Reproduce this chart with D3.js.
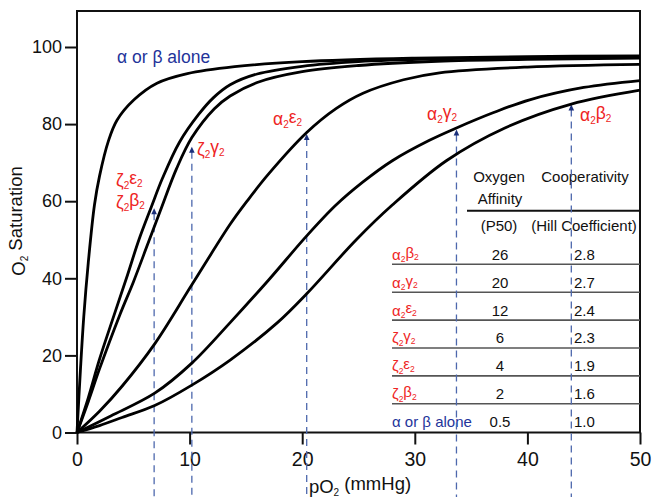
<!DOCTYPE html>
<html lang="en">
<head>
    <meta charset="UTF-8">
    <title>O2 saturation curves</title>
    <script src="https://d3js.org/d3.v7.min.js"></script>
    <style>
        body { margin: 0; background: #fff; }
        svg { display: block; font-family: "Liberation Sans", Arial, sans-serif; }
    </style>
</head>
<body>
    <script>
        // curve points: [pO2, saturation]
        const alphaOrBetaAlone = [[0,0],[0.3,16],[0.6,30],[1.0,44],[1.55,59],[2.0,66.5],[2.8,75.7],[3.55,81],[5.06,86.3],[7.1,90.6],[9.8,93.1],[14,94.9],[20,96.2],[30,97.1],[40,97.5],[50,97.7]];
        const zeta2beta2 = [[0,0],[1,9],[2,19],[3.3,30.5],[4.5,41],[5.5,50],[6.6,58.5],[7.6,66],[9.1,75.3],[10.8,82.5],[12.1,86.8],[13.6,90.2],[16,93],[20,95],[25,96.2],[32,96.9],[40,97.2],[50,97.4]];
        const zeta2gamma2 = [[0,0],[1,8],[2,16.5],[3.8,30.5],[5,39],[6.3,49],[7.4,57.5],[8.85,68.5],[10.2,76.5],[12.2,84],[13.6,87.3],[16,90.8],[20,93.6],[25,95.2],[32,96.3],[40,96.8],[50,97.1]];
        const alpha2epsilon2 = [[0,0],[2,5.5],[4,12],[6.9,23],[10.2,38.3],[13.6,54],[15.1,60],[17,67],[20.4,77.8],[23,84],[25.4,88],[29,91.5],[32.2,93.3],[40,94.8],[50,95.5]];
        const alpha2gamma2 = [[0,0],[3,4.3],[6.9,10.2],[10.2,18],[13.6,28.5],[17,39.5],[20.4,51],[23,59],[25.4,65],[28,70.5],[31.3,75.8],[33.7,79],[37,83],[40.2,86.3],[45,89.5],[50,91.3]];
        const alpha2beta2 = [[0,0],[2,1.8],[4,3.9],[6.9,7],[10.2,12.3],[13.6,18.8],[17.8,28.5],[20.4,36],[24.8,50],[28,59],[32.8,70.5],[38,79],[43.9,85.2],[50,88.8]];

        // dashed marker lines: pO2 and where the arrow stops
        const arrowP = [6.85, 10.2, 20.4, 33.7, 43.9];
        const arrowTip = [58.2, 74.1, 77.4, 78.6, 85.1];

        // table
        const rowNames = ["α2β2", "α2γ2", "α2ε2", "ζ2γ2", "ζ2ε2", "ζ2β2", "α or β alone"];
        const p50 = ["26", "20", "12", "6", "4", "2", "0.5"];
        const hill = ["2.8", "2.7", "2.4", "2.3", "1.9", "1.6", "1.0"];

        const xTicks = [0, 10, 20, 30, 40, 50];
        const yTicks = [0, 20, 40, 60, 80, 100];

        const width = 652, height = 497;
        const red = "#ee2424", blue = "#23339a", dashBlue = "#4d68ad";

        const svg = d3.select("body").append("svg")
            .attr("width", width)
            .attr("height", height);

        const x = d3.scaleLinear().domain([0, 50]).range([77, 640]);
        const y = d3.scaleLinear().domain([0, 100]).range([432.5, 47]);

        // writes "α2β2" style strings with the digits as subscripts
        function richText(sel, str, subSize) {
            const parts = str.match(/[^0-9]+|[0-9]/g);
            let down = false;
            parts.forEach(p => {
                const isSub = /[0-9]/.test(p);
                const t = sel.append("tspan").text(p);
                if (isSub) {
                    t.attr("font-size", subSize).attr("dy", down ? 0 : "0.32em");
                    down = true;
                } else if (down) {
                    t.attr("dy", "-0.32em");
                    down = false;
                }
            });
        }

        // frame
        svg.append("rect")
            .attr("x", 77).attr("y", 11)
            .attr("width", 640 - 77).attr("height", 432.5 - 11)
            .attr("fill", "none").attr("stroke", "#111").attr("stroke-width", 2);

        // axes
        const yAxis = svg.append("g")
            .attr("transform", "translate(77,0)")
            .call(d3.axisLeft(y).tickValues(yTicks).tickSize(12).tickPadding(3));
        const xAxis = svg.append("g")
            .attr("transform", "translate(0,432.5)")
            .call(d3.axisBottom(x).tickValues(xTicks).tickSize(12).tickPadding(7.5));
        [xAxis, yAxis].forEach(a => {
            a.select(".domain").remove();
            a.selectAll(".tick line").attr("stroke", "#111").attr("stroke-width", 2);
            a.selectAll(".tick text").attr("fill", "#111")
                .attr("font-family", "Liberation Sans, Arial, sans-serif");
        });
        yAxis.selectAll(".tick text").attr("font-size", 18);
        xAxis.selectAll(".tick text").attr("font-size", 19.5);

        // axis titles
        const yTitle = svg.append("text")
            .attr("transform", "translate(25,221) rotate(-90)")
            .attr("text-anchor", "middle").attr("font-size", 18.5).attr("fill", "#111");
        richText(yTitle, "O2 Saturation", "10px");
        const xTitle = svg.append("text")
            .attr("x", 360).attr("y", 493)
            .attr("text-anchor", "middle").attr("font-size", 18.5).attr("fill", "#111");
        richText(xTitle, "pO2 (mmHg)", "10px");

        // table rules
        svg.append("line")
            .attr("x1", 467).attr("x2", 640).attr("y1", 210.7).attr("y2", 210.7)
            .attr("stroke", "#111").attr("stroke-width", 2);
        const rowY = i => 259.7 + 27.9 * i;
        svg.selectAll(".rowline").data(rowNames.slice(0, 6)).join("line")
            .attr("x1", 392).attr("x2", 640)
            .attr("y1", (d, i) => rowY(i) + 4.6).attr("y2", (d, i) => rowY(i) + 4.6)
            .attr("stroke", "#555").attr("stroke-width", 1.6);

        // table headers
        const head = svg.append("g").attr("font-size", 15).attr("fill", "#111").attr("text-anchor", "middle");
        head.append("text").attr("x", 499).attr("y", 182).text("Oxygen");
        head.append("text").attr("x", 500).attr("y", 204).text("Affinity");
        head.append("text").attr("x", 585).attr("y", 182).text("Cooperativity");
        head.append("text").attr("x", 499).attr("y", 231).text("(P50)");
        head.append("text").attr("x", 584).attr("y", 231).text("(Hill Coefficient)");

        // table body
        rowNames.forEach((name, i) => {
            const lab = svg.append("text")
                .attr("x", 392).attr("y", rowY(i))
                .attr("font-size", 15)
                .attr("fill", name.includes("alone") ? blue : red);
            richText(lab, name, "8.5px");
            svg.append("text").attr("x", 500).attr("y", rowY(i))
                .attr("text-anchor", "middle").attr("font-size", 15).attr("fill", "#111")
                .text(p50[i]);
            svg.append("text").attr("x", 574).attr("y", rowY(i))
                .attr("font-size", 15).attr("fill", "#111")
                .text(hill[i]);
        });

        // dashed markers with arrowheads
        svg.selectAll(".marker").data(arrowP).join("line")
            .attr("x1", d => x(d)).attr("x2", d => x(d))
            .attr("y1", (d, i) => y(arrowTip[i]) + 5).attr("y2", height)
            .attr("stroke", dashBlue).attr("stroke-width", 1.3)
            .attr("stroke-dasharray", "7,5");
        svg.selectAll(".head").data(arrowP).join("path")
            .attr("d", (d, i) => {
                const px = x(d), py = y(arrowTip[i]);
                return `M${px},${py}L${px - 2.8},${py + 6}L${px + 2.8},${py + 6}Z`;
            })
            .attr("fill", "#1b2f7a");

        // curves
        const line = d3.line()
            .x(d => x(d[0])).y(d => y(d[1]))
            .curve(d3.curveCatmullRom.alpha(0.5));
        svg.selectAll(".curve")
            .data([alphaOrBetaAlone, zeta2beta2, zeta2gamma2, alpha2epsilon2, alpha2gamma2, alpha2beta2])
            .join("path")
            .attr("d", line)
            .attr("fill", "none").attr("stroke", "#000")
            .attr("stroke-width", 2.8).attr("stroke-linejoin", "round");

        // curve labels
        const curveLabels = [
            ["α or β alone", 117, 63, blue],
            ["ζ2ε2", 116, 186, red],
            ["ζ2β2", 116, 208, red],
            ["ζ2γ2", 197, 155, red],
            ["α2ε2", 273, 125, red],
            ["α2γ2", 427, 120, red],
            ["α2β2", 580, 121, red]
        ];
        curveLabels.forEach(([t, lx, ly, c]) => {
            const el = svg.append("text").attr("x", lx).attr("y", ly)
                .attr("font-size", 17.5).attr("fill", c);
            richText(el, t, "10px");
        });
    </script>
</body>
</html>
